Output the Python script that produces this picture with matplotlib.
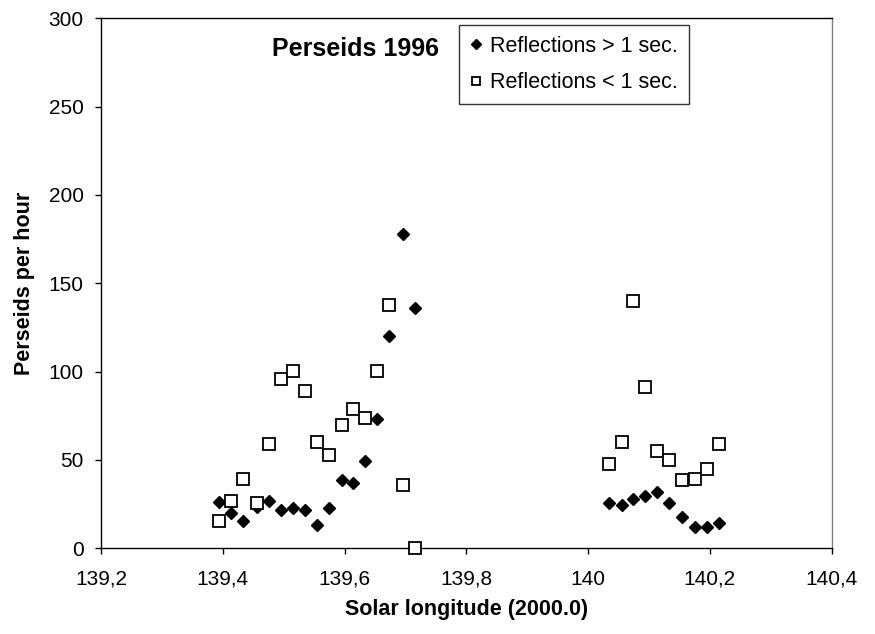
import matplotlib
matplotlib.use("Agg")
import matplotlib.pyplot as plt
from matplotlib.ticker import FuncFormatter

plt.rcParams['font.family'] = ['Liberation Sans', 'DejaVu Sans']

# reflections longer than 1 second (filled diamonds)
long_x = [139.394, 139.413, 139.434, 139.457, 139.476, 139.496, 139.516, 139.535,
          139.555, 139.575, 139.595, 139.614, 139.634, 139.654, 139.673, 139.696,
          139.716,
          140.035, 140.055, 140.074, 140.093, 140.113, 140.133, 140.154, 140.176,
          140.196, 140.215]
long_y = [26, 20, 15.5, 23.5, 27, 21.5, 23, 21.5,
          13, 23, 38.5, 37, 49.5, 73, 120, 178,
          136,
          25.6, 24.5, 28, 29.5, 32, 25.6, 17.7, 12, 12, 14.5]

# reflections shorter than 1 second (open squares)
short_x = [139.394, 139.413, 139.434, 139.457, 139.476, 139.496, 139.516, 139.535,
           139.555, 139.575, 139.595, 139.614, 139.634, 139.654, 139.673, 139.696,
           139.716,
           140.035, 140.055, 140.074, 140.093, 140.113, 140.133, 140.154, 140.176,
           140.196, 140.215]
short_y = [15.5, 27, 39.5, 25.6, 59, 96, 100.5, 89,
           60, 53, 70, 79, 73.5, 100.5, 138, 36,
           0,
           47.5, 60, 140, 91.5, 55, 50, 38.5, 39.5, 45, 59]

xticks = [139.2, 139.4, 139.6, 139.8, 140.0, 140.2, 140.4]
yticks = [0, 50, 100, 150, 200, 250, 300]


def comma_fmt(v, pos):
    s = ('%.1f' % v).rstrip('0').rstrip('.')
    return s.replace('.', ',')


fig = plt.figure(figsize=(8.75, 6.34), dpi=100)
ax = fig.add_axes([0.1154, 0.1352, 0.8351, 0.8359])

ax.plot(long_x, long_y, linestyle='none', marker='D', ms=6.3,
        mfc='black', mec='black', mew=1, label='Reflections > 1 sec.',
        clip_on=False, zorder=3)
ax.plot(short_x, short_y, linestyle='none', marker='s', ms=8.5,
        mfc='white', mec='black', mew=1.3, label='Reflections < 1 sec.',
        clip_on=False, zorder=3)

ax.set_xlim(139.2, 140.4)
ax.set_ylim(0, 300)
ax.set_xticks(xticks)
ax.set_yticks(yticks)
ax.xaxis.set_major_formatter(FuncFormatter(comma_fmt))
ax.tick_params(direction='out', length=4.5, width=1, labelsize=15, pad=8)
ax.tick_params(axis='x', pad=11)

for side in ['left', 'bottom', 'top']:
    ax.spines[side].set_color('black')
    ax.spines[side].set_linewidth(1)
ax.spines['right'].set_color('#808080')
ax.spines['right'].set_linewidth(1)

ax.set_xlabel('Solar longitude (2000.0)', fontsize=15.5, fontweight='bold', labelpad=7)
ax.set_ylabel('Perseids per hour', fontsize=15.5, fontweight='bold', labelpad=10)

ax.text(0.234, 0.9294, 'Perseids 1996', transform=ax.transAxes,
        fontsize=18, fontweight='bold', va='baseline', ha='left')

leg = ax.legend(loc='upper left', bbox_to_anchor=(0.49, 0.987), fontsize=15.5,
                frameon=True, fancybox=False, shadow=False, markerscale=0.75,
                handlelength=0.6, handletextpad=0.35, borderpad=0.5,
                labelspacing=0.7, borderaxespad=0)
leg.get_frame().set_edgecolor('black')
leg.get_frame().set_linewidth(1)

fig.savefig('out.png', dpi=100)
